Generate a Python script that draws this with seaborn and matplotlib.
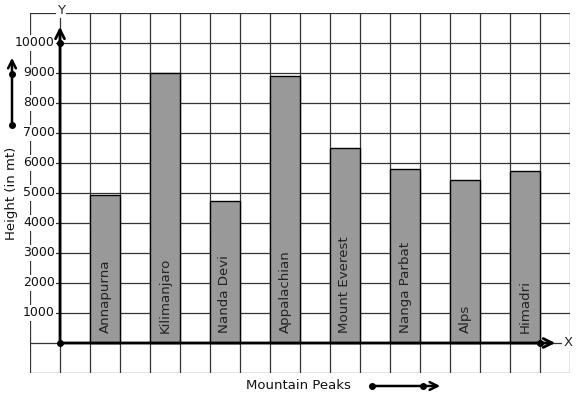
import numpy as np
import matplotlib
matplotlib.use("Agg")
import matplotlib.pyplot as plt
import seaborn as sns

peaks = ["Annapurna", "Kilimanjaro", "Nanda Devi", "Appalachian",
         "Mount Everest", "Nanga Parbat", "Alps", "Himadri"]
heights = [4950, 9000, 4720, 8900, 6500, 5800, 5420, 5730]
ytick_values = [1000, 2000, 3000, 4000, 5000, 6000, 7000, 8000, 9000, 10000]

sns.set_style("white")
plt.rcParams["font.family"] = ["DejaVu Sans"]

fig = plt.figure(figsize=(5.77, 3.99), dpi=100)
ax = fig.add_axes([30/577, 26/399, 540/577, 360/399])

sns.barplot(x=peaks, y=heights, color="#999999", saturation=1, width=0.5,
            edgecolor="black", linewidth=1, ax=ax, zorder=2)

ax.set_xlim(-1.25, 7.75)
ax.set_ylim(-1000, 11000)
ax.set_xticks(np.arange(-1.25, 7.76, 0.5))
ax.set_yticks(np.arange(-1000, 11001, 1000))
ax.tick_params(length=0, labelbottom=False, labelleft=False)
ax.set_xlabel("")
ax.set_ylabel("")
ax.grid(True, color="#333333", lw=0.9)
ax.set_axisbelow(True)
for s in ax.spines.values():
    s.set_visible(False)

ox = -0.75
white = dict(facecolor="white", edgecolor="none", pad=1.0)

# y tick labels
for v in ytick_values:
    ax.text(ox - 0.085, v, str(v), ha="right", va="center", fontsize=9,
            color="#111111", bbox=white, zorder=3)

# bar labels
for i, (name, h) in enumerate(zip(peaks, heights)):
    ax.text(i, 333, name, rotation=90, ha="center", va="bottom",
            fontsize=9.6, color="#222222", zorder=4)

# axes arrows
arr = dict(arrowstyle="->", lw=2, color="black", mutation_scale=16)
ax.annotate("", xy=(ox, 10633), xytext=(ox, 0), arrowprops=arr,
            annotation_clip=False, zorder=5)
ax.annotate("", xy=(7.55, 0), xytext=(ox, 0), arrowprops=arr,
            annotation_clip=False, zorder=5)
ax.plot([ox, ox, 7.25], [0, 10000, 0], "o", color="black", ms=4,
        zorder=6, clip_on=False)

ax.text(ox + 0.017, 11100, "Y", ha="center", va="center", fontsize=9.5,
        bbox=white, zorder=3, clip_on=False)
ax.text(7.717, 0, "X", ha="center", va="center", fontsize=9.5,
        bbox=white, zorder=3, clip_on=False)

# side arrow near y label
arr2 = dict(arrowstyle="->", lw=1.8, color="black", mutation_scale=14)
ax.annotate("", xy=(-1.55, 9600), xytext=(-1.55, 7267), arrowprops=arr2,
            annotation_clip=False)
ax.plot([-1.55, -1.55], [7267, 8967], "o", color="black", ms=4, clip_on=False)
ax.text(-1.55, 4983, "Height (in mt)", rotation=90, ha="center", va="center",
        fontsize=9.5, color="#111111", clip_on=False)

# bottom arrow near x label
ax.annotate("", xy=(5.633, -1433), xytext=(4.45, -1433), arrowprops=arr2,
            annotation_clip=False)
ax.plot([4.45, 5.3], [-1433, -1433], "o", color="black", ms=4, clip_on=False)
ax.text(3.225, -1433, "Mountain Peaks", ha="center", va="center",
        fontsize=9.5, color="#111111", clip_on=False)

fig.savefig("out.png", dpi=100)
